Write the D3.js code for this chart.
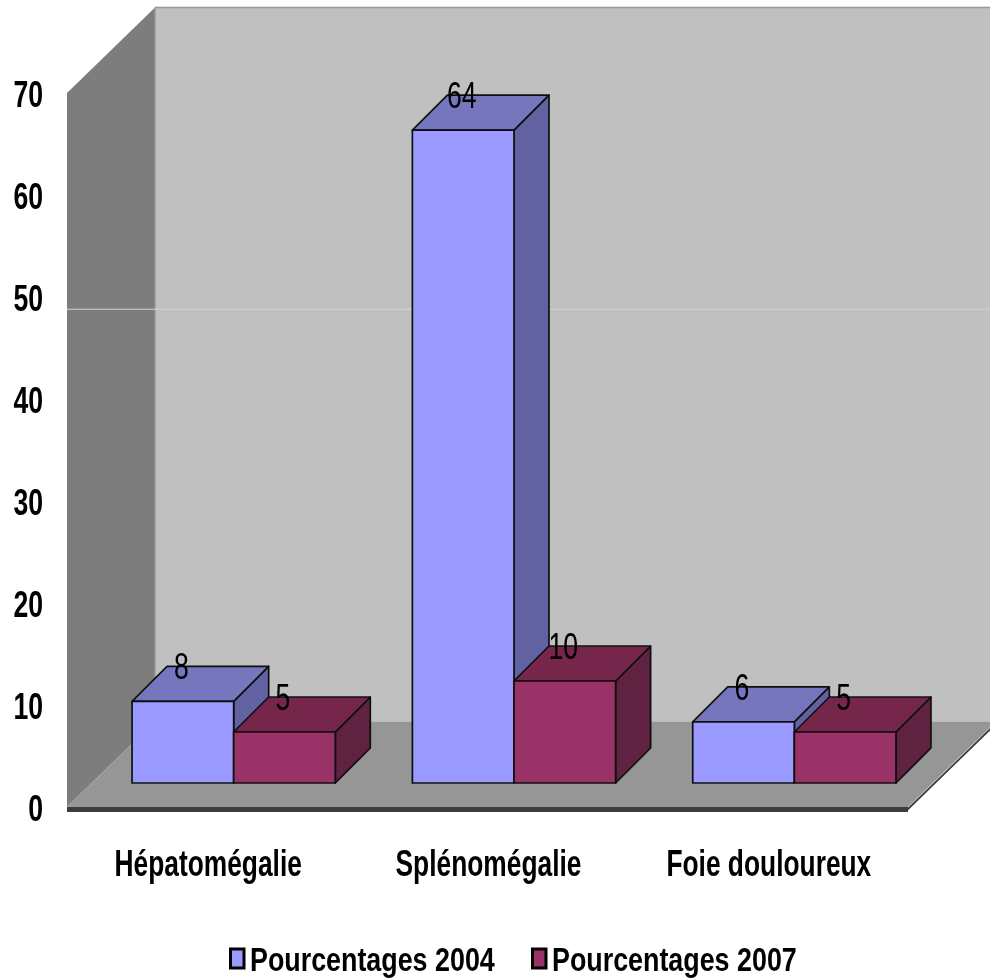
<!DOCTYPE html>
<html>
<head>
<meta charset="utf-8">
<script src="https://cdn.jsdelivr.net/npm/d3@7"></script>
<style>
  html, body { margin: 0; padding: 0; background: #fff; }
  svg { display: block; }
  text { font-family: "Liberation Sans", Arial, sans-serif; fill: #000; }
</style>
</head>
<body>
<div id="chart"></div>
<script>
const categories = ["Hépatomégalie", "Splénomégalie", "Foie douloureux"];
const seriesNames = ["Pourcentages 2004", "Pourcentages 2007"];
const values2004 = [8, 64, 6];
const values2007 = [5, 10, 5];
const yTicks = [0, 10, 20, 30, 40, 50, 60, 70];
// pale horizontal line that crosses the scanned chart, in axis units
const paleLineLevel = 48.8;

const width = 990, height = 978;
// the labels in the picture are stretched vertically
const squeeze = 0.72, categorySqueeze = 0.732, legendSqueeze = 0.79;

const colors = [
  { front: "#9999ff", top: "#7676bf", side: "#6262a3" },
  { front: "#993366", top: "#76284c", side: "#5f2040" }
];

const svg = d3.select("#chart").append("svg")
  .attr("width", width)
  .attr("height", height);

svg.append("defs").append("filter")
  .attr("id", "soft")
  .append("feGaussianBlur")
  .attr("stdDeviation", 0.55);

const chart = svg.append("g").attr("filter", "url(#soft)");

// scales live on the front edge of the floor
const x = d3.scaleBand()
  .domain(categories)
  .range([67, 908])
  .paddingInner(0.275)
  .paddingOuter(0.1375);

const y = d3.scaleLinear()
  .domain([0, 70])
  .range([807, 93]);

const group = d3.scaleBand()
  .domain([0, 1])
  .range([0, x.bandwidth()]);

// oblique projection offsets
const wallDepth = { dx: 88, dy: -85.5 };
const barPlane = { dx: 26.5, dy: -24 };
const barDepth = { dx: 35, dy: -35 };

const line = d3.line();
const x0 = x.range()[0], x1 = x.range()[1], yMin = y(0), yMax = y(70);

// back wall
chart.append("path")
  .attr("d", line([
    [x0 + wallDepth.dx, yMax + wallDepth.dy], [x1 + wallDepth.dx, yMax + wallDepth.dy],
    [x1 + wallDepth.dx, yMin + wallDepth.dy], [x0 + wallDepth.dx, yMin + wallDepth.dy]
  ]) + "Z")
  .attr("fill", "#c0c0c0");
chart.append("line")
  .attr("x1", x0 + wallDepth.dx).attr("x2", width)
  .attr("y1", yMax + wallDepth.dy).attr("y2", yMax + wallDepth.dy)
  .attr("stroke", "#999").attr("stroke-width", 1.5);

// left wall
chart.append("path")
  .attr("d", line([
    [x0, yMax], [x0 + wallDepth.dx, yMax + wallDepth.dy],
    [x0 + wallDepth.dx, yMin + wallDepth.dy], [x0, yMin]
  ]) + "Z")
  .attr("fill", "#7d7d7d");
chart.append("line")
  .attr("x1", x0 + wallDepth.dx).attr("x2", x0 + wallDepth.dx)
  .attr("y1", yMax + wallDepth.dy).attr("y2", yMin + wallDepth.dy)
  .attr("stroke", "#999").attr("stroke-width", 1.5);

// floor
chart.append("path")
  .attr("d", line([
    [x0, yMin], [x1, yMin],
    [x1 + wallDepth.dx, yMin + wallDepth.dy], [x0 + wallDepth.dx, yMin + wallDepth.dy]
  ]) + "Z")
  .attr("fill", "#969696");
chart.append("path")
  .attr("d", line([[x0, yMin + 2], [x1, yMin + 2], [x1 + wallDepth.dx, yMin + wallDepth.dy + 2]]))
  .attr("fill", "none")
  .attr("stroke", "#3c3c3c")
  .attr("stroke-width", 1.8);
chart.append("line")
  .attr("x1", x0).attr("x2", x1)
  .attr("y1", yMin + 2.5).attr("y2", yMin + 2.5)
  .attr("stroke", "#3c3c3c")
  .attr("stroke-width", 5);

// pale line
chart.append("line")
  .attr("x1", x0).attr("x2", width)
  .attr("y1", y(paleLineLevel)).attr("y2", y(paleLineLevel))
  .attr("stroke", "#d4d4d4")
  .attr("stroke-width", 1);

// bars, flattened so they can be drawn back to front
const bars = [];
categories.forEach(function(c, i) {
  bars.push({ category: c, series: 0, value: values2004[i] });
  bars.push({ category: c, series: 1, value: values2007[i] });
});

function barCorners(d) {
  const left = x(d.category) + group(d.series) + barPlane.dx;
  const right = left + group.bandwidth();
  const base = yMin + barPlane.dy;
  const top = y(d.value) + barPlane.dy;
  return { left: left, right: right, base: base, top: top };
}

const bar = chart.selectAll("g.bar")
  .data(bars)
  .enter()
  .append("g")
  .attr("class", "bar")
  .attr("stroke", "#111")
  .attr("stroke-width", 1.7)
  .attr("stroke-linejoin", "round");

bar.append("path")
  .attr("fill", function(d) { return colors[d.series].side; })
  .attr("d", function(d) {
    const b = barCorners(d);
    return line([
      [b.right, b.top], [b.right + barDepth.dx, b.top + barDepth.dy],
      [b.right + barDepth.dx, b.base + barDepth.dy], [b.right, b.base]
    ]) + "Z";
  });

bar.append("path")
  .attr("fill", function(d) { return colors[d.series].top; })
  .attr("d", function(d) {
    const b = barCorners(d);
    return line([
      [b.left, b.top], [b.left + barDepth.dx, b.top + barDepth.dy],
      [b.right + barDepth.dx, b.top + barDepth.dy], [b.right, b.top]
    ]) + "Z";
  });

bar.append("path")
  .attr("fill", function(d) { return colors[d.series].front; })
  .attr("d", function(d) {
    const b = barCorners(d);
    return line([[b.left, b.top], [b.right, b.top], [b.right, b.base], [b.left, b.base]]) + "Z";
  });

// value labels
chart.selectAll("text.value")
  .data(bars)
  .enter()
  .append("text")
  .attr("class", "value")
  .attr("text-anchor", "middle")
  .attr("font-size", 37)
  .attr("transform", function(d) {
    const b = barCorners(d);
    return "translate(" + ((b.left + b.right) / 2 - 1.5) + "," + (b.top + barDepth.dy + 13) + ") scale(" + squeeze + ",1)";
  })
  .text(function(d) { return d.value; });

// Y axis
const yAxis = chart.append("g")
  .attr("transform", "translate(43,0)")
  .call(d3.axisLeft(y).tickValues(yTicks).tickSize(0).tickPadding(0));
yAxis.select(".domain").remove();
yAxis.selectAll("text")
  .attr("x", 0)
  .attr("dy", null)
  .attr("y", 13)
  .attr("font-family", "Liberation Sans")
  .attr("font-size", 37)
  .attr("font-weight", "bold")
  .attr("transform", "scale(" + squeeze + ",1)");

// X axis
const xAxis = chart.append("g")
  .attr("transform", "translate(0,876)")
  .call(d3.axisBottom(x).tickSize(0).tickPadding(0));
xAxis.select(".domain").remove();
xAxis.selectAll("text")
  .attr("y", 0)
  .attr("dy", null)
  .attr("x", 0)
  .attr("font-family", "Liberation Sans")
  .attr("font-size", 36)
  .attr("font-weight", "bold")
  .attr("transform", "translate(1,0) scale(" + categorySqueeze + ",1)");

// legend
const legendX = d3.scaleOrdinal().domain([0, 1]).range([229, 531]);
const legend = chart.selectAll("g.legend")
  .data(seriesNames)
  .enter()
  .append("g")
  .attr("class", "legend")
  .attr("transform", function(d, i) { return "translate(" + legendX(i) + ",948)"; });

legend.append("rect")
  .attr("x", 1.5)
  .attr("y", 1)
  .attr("width", 13.5)
  .attr("height", 19)
  .attr("fill", function(d, i) { return colors[i].front; })
  .attr("stroke", "#000")
  .attr("stroke-width", 3);

legend.append("text")
  .attr("x", 0)
  .attr("y", 0)
  .attr("font-size", 34)
  .attr("font-weight", "bold")
  .attr("transform", "translate(21,22.5) scale(" + legendSqueeze + ",1)")
  .text(function(d) { return d; });
</script>
</body>
</html>
